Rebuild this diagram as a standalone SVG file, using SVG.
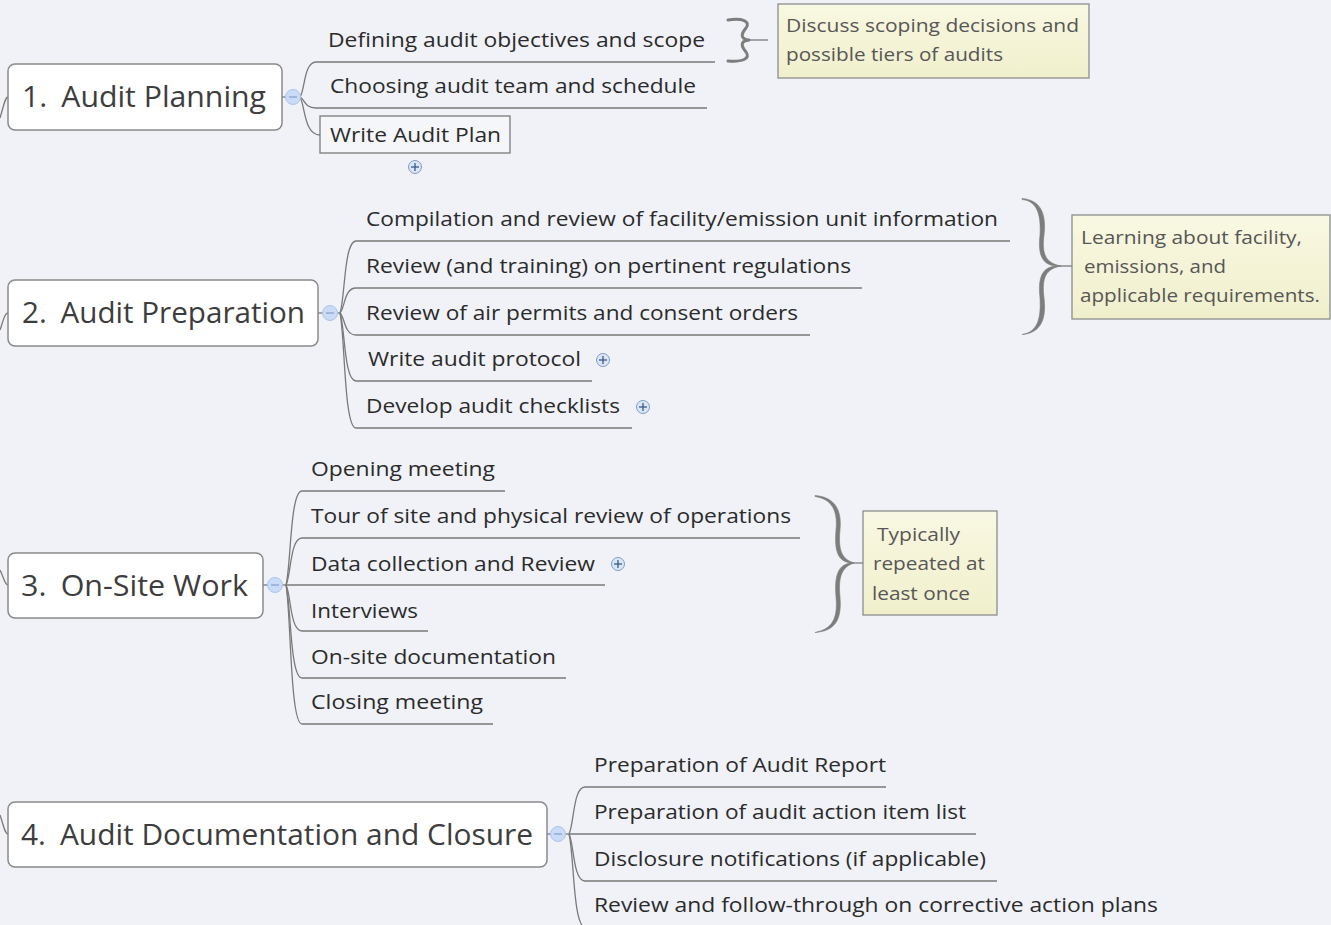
<svg xmlns="http://www.w3.org/2000/svg" width="1331" height="925" viewBox="0 0 1331 925">
<defs>
<linearGradient id="noteFill" x1="0" y1="0" x2="0" y2="1">
<stop offset="0" stop-color="#f9f8e2"/>
<stop offset="1" stop-color="#f0efcc"/>
</linearGradient>
<style>
.bg{fill:#f0f2f7}
.main rect{fill:#ffffff;stroke:#8a8a8a;stroke-width:1.5}
.main text{font-family:"Open Sans","Noto Sans","Liberation Sans",sans-serif;font-size:30px;fill:#3d3d3d}
.child{font-family:"Open Sans","Noto Sans","Liberation Sans",sans-serif;font-size:20px;fill:#2b2b2b}
.note rect{fill:url(#noteFill);stroke:#8c8c8c;stroke-width:1.3}
.note text{font-family:"Open Sans","Noto Sans","Liberation Sans",sans-serif;font-size:19px;fill:#575757}
.conn path,.conn line{fill:none;stroke:#7a7a7a;stroke-width:1.3}
.conn path.bracefill{fill:#7d7d7d;stroke:#7d7d7d;stroke-width:0.6}
.conn path.brace{fill:none;stroke:#7d7d7d;stroke-width:3;stroke-linecap:round;stroke-linejoin:round}
.stub{fill:none;stroke:#858585;stroke-width:1.3}
.col circle{fill:#c9dbf6;stroke:#adc5ea;stroke-width:1}
.col line{stroke:#8aa6cf;stroke-width:1.3}
.exp circle{fill:#dbe6f4;stroke:#7f9cc4;stroke-width:1}
.exp line{stroke:#3a5a8a;stroke-width:1.3}
.wbox{fill:#f5f6f9;stroke:#7a7a7a;stroke-width:1.3}
</style>
</defs>
<rect class="bg" x="0" y="0" width="1331" height="925"/>

<g id="connectors" class="conn">
<!-- root stubs -->
<path d="M0,118 C4,105 5,97 8,97"/>
<path d="M0,330 C4,318 5,313 8,313"/>
<path d="M0,570 C4,578 5,585 8,585"/>
<path d="M0,815 C4,827 5,834 8,834"/>
<!-- box to collapse circle -->
<line x1="282" y1="97" x2="286" y2="97"/>
<line x1="318" y1="313" x2="323" y2="313"/>
<line x1="263" y1="585" x2="268" y2="585"/>
<line x1="547" y1="834" x2="551" y2="834"/>
<line x1="337" y1="313" x2="340" y2="313"/>
<line x1="282" y1="585" x2="286" y2="585"/>
<line x1="565" y1="834" x2="569" y2="834"/>
<!-- section 1 -->
<path d="M300,97 C305,90 304,62 316,62 L715,62"/>
<path d="M300,97 C305,99 304,108 316,108 L707,108"/>
<path d="M300,97 C305,105 304,135 320,135"/>
<!-- section 2 -->
<path d="M340,313 C345,299 344,241 356,241 L1010,241"/>
<path d="M340,313 C345,308 344,288 356,288 L862,288"/>
<path d="M340,313 C345,317 344,335 356,335 L810,335"/>
<path d="M340,313 C345,327 344,381 356,381 L592,381"/>
<path d="M340,313 C345,336 344,428 356,428 L632,428"/>
<!-- section 3 -->
<path d="M286,585 C291,566 290,491 302,491 L505,491"/>
<path d="M286,585 C291,576 290,538 302,538 L800,538"/>
<path d="M286,585 L605,585"/>
<path d="M286,585 C291,594 290,631 302,631 L428,631"/>
<path d="M286,585 C291,604 290,678 302,678 L566,678"/>
<path d="M286,585 C291,613 290,724 302,724 L493,724"/>
<!-- section 4 -->
<path d="M569,834 C574,825 573,787 585,787 L886,787"/>
<path d="M569,834 L976,834"/>
<path d="M569,834 C574,843 573,881 585,881 L997,881"/>
<path d="M569,834 C574,853 573,927 585,927 L1170,927"/>
<!-- summary braces -->
<path class="brace" d="M728,20 C742,18 751,21 746,28 C741,34 740,39 749,40 C740,41 741,46 746,52 C751,59 742,62 728,61"/>
<line class="stub" x1="749" y1="40" x2="768" y2="40"/>
<path class="bracefill" d="M1022,198.5 C1041,200 1046.5,214 1044,235 C1041.5,255 1046,263 1061,266 C1046,269 1041.5,277 1044,298 C1046.5,319 1041,333 1022,334.5 C1038,332 1041,318 1040,298 C1037.5,276 1043,267 1056,266 C1043,265 1037.5,256 1040,235 C1041,216 1038,201 1022,199.5 Z"/>
<line class="stub" x1="1058" y1="266" x2="1072" y2="266"/>
<path class="bracefill" d="M815,495.5 C835,497 842,510 840,530 C838,551 842,559 854,563 C842,567 838,576 840,597 C842,620 835,631 815,632.5 C832,629 838,619 836,597 C834,574 839,565 850,563 C839,561 834,553 836,530 C838,511 832,499 815,496.5 Z"/>
<line class="stub" x1="852" y1="563" x2="863" y2="563"/>
</g>

<g id="node-audit-planning" class="main">
<rect x="8" y="64" width="274" height="66" rx="7"/>
<text x="22" y="107" textLength="244" lengthAdjust="spacingAndGlyphs">1.<tspan dx="14">Audit Planning</tspan></text>
</g>
<g id="collapse-1" class="col"><circle cx="293" cy="97" r="7.5"/><line x1="289" y1="97" x2="297" y2="97"/></g>
<g id="node-defining"><text class="child" x="328" y="47" textLength="377" lengthAdjust="spacingAndGlyphs">Defining audit objectives and scope</text></g>
<g id="node-choosing"><text class="child" x="330" y="93" textLength="366" lengthAdjust="spacingAndGlyphs">Choosing audit team and schedule</text></g>
<g id="node-write-plan">
<rect class="wbox" x="320" y="116" width="190" height="37"/>
<text class="child" x="330" y="142" textLength="171" lengthAdjust="spacingAndGlyphs">Write Audit Plan</text>
</g>
<g id="expand-write-plan" class="exp"><circle cx="415" cy="167" r="6.5"/><line x1="411" y1="167" x2="419" y2="167"/><line x1="415" y1="163" x2="415" y2="171"/></g>
<g id="note-scoping" class="note">
<rect x="778" y="4" width="311" height="74"/>
<text x="786" y="32" textLength="293" lengthAdjust="spacingAndGlyphs">Discuss scoping decisions and</text>
<text x="786" y="61" textLength="217" lengthAdjust="spacingAndGlyphs">possible tiers of audits</text>
</g>

<g id="node-audit-preparation" class="main">
<rect x="8" y="280" width="310" height="66" rx="7"/>
<text x="22" y="323" textLength="283" lengthAdjust="spacingAndGlyphs">2.<tspan dx="14">Audit Preparation</tspan></text>
</g>
<g id="collapse-2" class="col"><circle cx="330" cy="313" r="7.5"/><line x1="326" y1="313" x2="334" y2="313"/></g>
<g id="node-compilation"><text class="child" x="366" y="226" textLength="632" lengthAdjust="spacingAndGlyphs">Compilation and review of facility/emission unit information</text></g>
<g id="node-review-training"><text class="child" x="366" y="273" textLength="485" lengthAdjust="spacingAndGlyphs">Review (and training) on pertinent regulations</text></g>
<g id="node-review-permits"><text class="child" x="366" y="320" textLength="432" lengthAdjust="spacingAndGlyphs">Review of air permits and consent orders</text></g>
<g id="node-write-protocol"><text class="child" x="368" y="366" textLength="213" lengthAdjust="spacingAndGlyphs">Write audit protocol</text></g>
<g id="expand-protocol" class="exp"><circle cx="603" cy="360" r="6.5"/><line x1="599" y1="360" x2="607" y2="360"/><line x1="603" y1="356" x2="603" y2="364"/></g>
<g id="node-checklists"><text class="child" x="366" y="413" textLength="254" lengthAdjust="spacingAndGlyphs">Develop audit checklists</text></g>
<g id="expand-checklists" class="exp"><circle cx="643" cy="407" r="6.5"/><line x1="639" y1="407" x2="647" y2="407"/><line x1="643" y1="403" x2="643" y2="411"/></g>
<g id="note-learning" class="note">
<rect x="1072" y="215" width="258" height="104"/>
<text x="1081" y="244" textLength="221" lengthAdjust="spacingAndGlyphs">Learning about facility,</text>
<text x="1084" y="273" textLength="142" lengthAdjust="spacingAndGlyphs">emissions, and</text>
<text x="1080" y="302" textLength="240" lengthAdjust="spacingAndGlyphs">applicable requirements.</text>
</g>

<g id="node-onsite-work" class="main">
<rect x="8" y="553" width="255" height="65" rx="7"/>
<text x="21" y="596" textLength="227" lengthAdjust="spacingAndGlyphs">3.<tspan dx="14">On-Site Work</tspan></text>
</g>
<g id="collapse-3" class="col"><circle cx="275" cy="585" r="7.5"/><line x1="271" y1="585" x2="279" y2="585"/></g>
<g id="node-opening"><text class="child" x="311" y="476" textLength="184" lengthAdjust="spacingAndGlyphs">Opening meeting</text></g>
<g id="node-tour"><text class="child" x="311" y="523" textLength="480" lengthAdjust="spacingAndGlyphs">Tour of site and physical review of operations</text></g>
<g id="node-data"><text class="child" x="311" y="571" textLength="284" lengthAdjust="spacingAndGlyphs">Data collection and Review</text></g>
<g id="expand-data" class="exp"><circle cx="618" cy="564" r="6.5"/><line x1="614" y1="564" x2="622" y2="564"/><line x1="618" y1="560" x2="618" y2="568"/></g>
<g id="node-interviews"><text class="child" x="311" y="618" textLength="107" lengthAdjust="spacingAndGlyphs">Interviews</text></g>
<g id="node-onsite-doc"><text class="child" x="311" y="664" textLength="245" lengthAdjust="spacingAndGlyphs">On-site documentation</text></g>
<g id="node-closing"><text class="child" x="311" y="709" textLength="172" lengthAdjust="spacingAndGlyphs">Closing meeting</text></g>
<g id="note-repeated" class="note">
<rect x="863" y="511" width="134" height="104"/>
<text x="877" y="541" textLength="83" lengthAdjust="spacingAndGlyphs">Typically</text>
<text x="873" y="570" textLength="112" lengthAdjust="spacingAndGlyphs">repeated at</text>
<text x="872" y="600" textLength="98" lengthAdjust="spacingAndGlyphs">least once</text>
</g>

<g id="node-documentation-closure" class="main">
<rect x="8" y="802" width="539" height="65" rx="7"/>
<text x="21" y="845" textLength="512" lengthAdjust="spacingAndGlyphs">4.<tspan dx="14">Audit Documentation and Closure</tspan></text>
</g>
<g id="collapse-4" class="col"><circle cx="558" cy="834" r="7.5"/><line x1="554" y1="834" x2="562" y2="834"/></g>
<g id="node-report"><text class="child" x="594" y="772" textLength="292" lengthAdjust="spacingAndGlyphs">Preparation of Audit Report</text></g>
<g id="node-action-list"><text class="child" x="594" y="819" textLength="372" lengthAdjust="spacingAndGlyphs">Preparation of audit action item list</text></g>
<g id="node-disclosure"><text class="child" x="594" y="866" textLength="392" lengthAdjust="spacingAndGlyphs">Disclosure notifications (if applicable)</text></g>
<g id="node-follow-through"><text class="child" x="594" y="912" textLength="564" lengthAdjust="spacingAndGlyphs">Review and follow-through on corrective action plans</text></g>
</svg>
